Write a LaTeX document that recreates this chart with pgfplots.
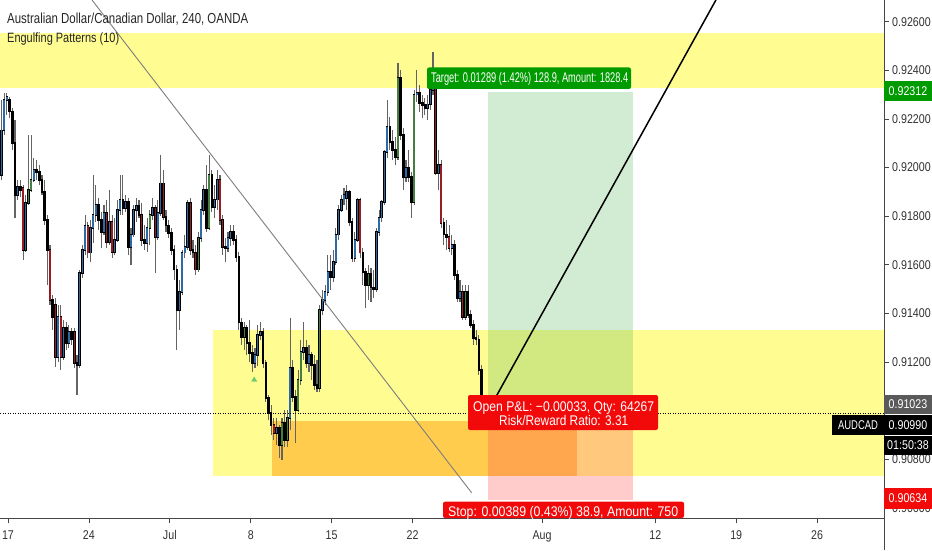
\documentclass[border=0pt]{standalone}
\usepackage{pgfplots}
\pgfplotsset{compat=1.18}
\usepackage{pgfplotstable}
\usepackage{fontspec}
\usepackage{graphicx}
\setmainfont{Liberation Sans}[FakeStretch=0.84]
\newcommand\fitw[2]{\resizebox{#1}{\height}{#2}}
\newcommand\tk{\fontsize{12.7}{14}\selectfont}
\definecolor{band}{RGB}{255,252,145}
\definecolor{orng}{RGB}{255,204,77}
\definecolor{cblue}{RGB}{44,105,165}
\definecolor{cred}{RGB}{150,30,35}
\definecolor{cgreen}{RGB}{70,125,65}
\definecolor{wick}{RGB}{100,100,100}
\definecolor{axg}{RGB}{70,70,70}
\definecolor{lab}{RGB}{50,50,50}
\definecolor{tgreen}{RGB}{0,155,0}
\definecolor{tred}{RGB}{242,10,10}
\definecolor{tgray}{RGB}{90,90,90}
\definecolor{posg}{RGB}{76,175,80}
\definecolor{posr}{RGB}{255,82,82}
\definecolor{trend}{RGB}{125,125,125}
\definecolor{tri}{RGB}{110,200,110}

\pgfplotstableread{
i o h l c
0 1969 2278 1949 2154
1 2154 2307 2134 2278
2 2278 2307 2216 2290
6 1887 1949 1866 1920
9 1661 1887 1653 1854
12 1949 2039 1941 1990
21 1221 1435 1200 1385
23 1221 1373 1208 1340
25 1278 1352 1258 1324
29 1188 1579 1175 1566
30 1566 1681 1546 1661
31 1661 1805 1640 1760
33 1649 1784 1611 1751
34 1751 1969 1690 1805
35 1805 1928 1776 1846
38 1735 1846 1723 1813
40 1694 1908 1681 1776
42 1653 1793 1640 1702
43 1702 1867 1694 1825
44 1825 1969 1805 1867
46 1834 1887 1817 1858
48 1673 1751 1599 1723
49 1723 1846 1714 1825
50 1825 1875 1776 1842
54 1690 1793 1653 1751
56 1805 1875 1784 1834
58 1714 1867 1702 1813
59 1813 2052 1801 1936
66 1414 1537 1332 1488
67 1488 1661 1476 1649
68 1649 1723 1628 1673
69 1673 1867 1661 1854
74 1710 1867 1694 1825
75 1825 1928 1805 1908
79 1838 1928 1793 1867
80 1867 1990 1825 1949
84 1669 1735 1653 1710
85 1710 1764 1677 1735
94 1196 1258 1175 1229
95 1229 1352 1184 1311
96 1311 1365 1291 1324
102 908 970 859 929
107 970 1381 920 1175
112 1241 1365 1208 1258
114 1196 1270 1159 1229
119 1414 1496 1393 1455
120 1455 1517 1435 1488
121 1488 1640 1472 1570
123 1550 1661 1529 1611
124 1611 1751 1599 1723
125 1723 1846 1702 1825
126 1825 1887 1817 1867
127 1867 1916 1846 1887
128 1875 1928 1825 1899
131 1628 1735 1611 1702
132 1702 1875 1694 1867
139 1500 1751 1488 1735
140 1735 1825 1718 1793
141 1793 1867 1776 1858
142 1858 2072 1846 2064
143 2064 2278 2039 2167
150 1961 2031 1941 1998
154 2299 2401 2270 2307
158 2245 2299 2196 2261
159 2261 2360 2237 2319
160 2319 2475 2299 2373
162 1978 2072 1908 2011
167 1669 1723 1640 1681
170 1463 1537 1447 1488
180 961 1023 929 990
}\tblue

\pgfplotstableread{
i o h l c
3 2278 2290 2204 2229
4 2229 2245 2072 2101
5 2101 2196 1792 1887
7 1920 1949 1879 1908
13 1990 2031 1949 1982
14 1982 2011 1928 1949
15 1949 1969 1887 1899
16 1899 1949 1764 1784
17 1784 1805 1517 1661
19 1455 1476 1332 1385
24 1340 1365 1249 1278
26 1324 1340 1270 1291
28 1196 1229 1064 1188
36 1846 1875 1743 1784
37 1784 1817 1669 1735
45 1867 1969 1805 1834
47 1858 1875 1640 1673
51 1842 1867 1793 1805
53 1702 1764 1661 1690
61 1797 1825 1735 1760
62 1760 1784 1710 1731
63 1731 1751 1640 1661
64 1661 1681 1537 1579
65 1579 1599 1249 1414
71 1661 1702 1628 1649
76 1908 2011 1735 1751
78 1969 1990 1817 1838
83 1673 1710 1611 1669
86 1735 1764 1681 1702
87 1702 1723 1611 1632
88 1632 1653 1332 1361
89 1361 1381 1270 1303
91 1340 1352 1229 1278
92 1278 1373 1200 1237
93 1237 1270 1159 1196
97 1324 1340 1175 1196
98 1196 1208 1036 1052
99 1052 1064 961 990
100 990 1023 900 941
103 929 941 805 859
105 949 1003 850 879
108 1175 1208 1036 1056
109 1056 1085 867 1003
113 1258 1291 1175 1196
115 1229 1241 1126 1188
116 1188 1229 1085 1105
117 1105 1208 1077 1093
122 1570 1640 1496 1550
129 1899 1908 1760 1776
130 1776 1793 1611 1628
134 1649 1669 1517 1570
135 1570 1587 1422 1517
137 1562 1587 1447 1505
138 1505 1579 1463 1500
144 2167 2208 2072 2105
145 2105 2154 2031 2072
146 2072 2126 2011 2043
148 2368 2401 2113 2134
149 2134 2163 1908 1961
151 1998 2072 1941 1961
152 1961 1982 1793 1858
155 2307 2340 2229 2266
156 2266 2299 2204 2257
157 2257 2286 2216 2245
164 1772 1793 1681 1723
165 1723 1784 1661 1714
168 1681 1702 1537 1558
169 1558 1579 1447 1463
173 1488 1517 1381 1393
174 1393 1414 1340 1352
175 1352 1373 1270 1299
176 1299 1332 1270 1291
177 1291 1311 1147 1167
178 1167 1188 1003 1023
179 1023 1044 941 961
}\tblack

\pgfplotstableread{
i o h l c
8 1916 1928 1620 1661
18 1661 1681 1435 1455
20 1435 1463 1180 1221
22 1385 1435 1167 1221
27 1324 1340 1175 1196
32 1760 1776 1628 1649
39 1813 1867 1669 1694
41 1776 1805 1628 1653
52 1805 1854 1677 1702
57 1834 1846 1566 1714
60 1936 1990 1784 1797
70 1854 1875 1640 1661
72 1649 1681 1558 1579
81 1949 1969 1764 1784
82 1784 1805 1640 1673
101 941 970 879 908
133 1867 1875 1628 1649
161 2373 2401 1969 1978
163 2011 2031 1751 1772
166 1714 1764 1653 1669
171 1488 1517 1373 1385
}\tred

\pgfplotstableread{
i o h l c
10 1854 2134 1846 1908
11 1908 2134 1899 1949
55 1751 1825 1681 1805
73 1579 1735 1570 1710
77 1751 2052 1743 1969
90 1303 1365 1249 1340
104 859 970 797 949
106 879 1003 850 970
110 1003 1167 994 1126
111 1126 1291 1105 1241
118 1093 1435 1077 1414
136 1517 1599 1455 1562
147 2043 2430 2031 2368
153 1858 2319 1846 2299
172 1385 1517 1373 1488
}\tgreen

\newcommand\candles[2]{%
 \addplot[draw=wick, line width=1.1pt, mark=none, forget plot, quiver={u=0, v={\thisrow{h}-\thisrow{l}}}] table[x=i, y=l] {#1};
 \addplot[draw=black, line width=2.6pt, mark=none, forget plot, quiver={u=0, v={abs(\thisrow{c}-\thisrow{o})+5}}] table[x=i, y expr={min(\thisrow{o},\thisrow{c})-2.5}] {#1};
 \addplot[draw=#2, line width=1.4pt, mark=none, forget plot, quiver={u=0, v={max(abs(\thisrow{c}-\thisrow{o})-2,1)}}] table[x=i, y expr={min(\thisrow{o},\thisrow{c})+1}] {#1};
}

\begin{document}
\begin{tikzpicture}
\useasboundingbox (0pt,0pt) rectangle (932pt,550pt);
\begin{axis}[
 at={(0pt,31.6pt)}, anchor=south west,
 scale only axis, width=884pt, height=518.4pt,
 xmin=-0.556, xmax=327.22, ymin=556.6, ymax=2689.3,
 axis x line*=bottom, axis y line*=right,
 axis line style={draw=axg, line width=1pt},
 clip mode=individual,
 xtick={2.41,32.41,62.41,92.41,122.41,152.41,200.41,242.41,272.41,302.41},
 xticklabels={17,24,Jul,8,15,22,Aug,12,19,26},
 ytick={2600,2400,2200,2000,1800,1600,1400,1200,800,600},
 yticklabels={0.92600,0.92400,0.92200,0.92000,0.91800,0.91600,0.91400,0.91200,0.90800,0.90600},
 tick align=outside, major tick length=5pt,
 tick style={draw=axg, line width=0.8pt},
 xticklabel style={font=\tk, text=lab, anchor=north, inner sep=0pt, yshift=-7pt},
 yticklabel style={font=\tk, text=lab, anchor=west, inner sep=0pt, xshift=3pt},
]
\fill[band] (axis cs:-0.556,2326) rectangle (axis cs:327.22,2552);
\fill[band] (axis cs:78.4,731) rectangle (axis cs:327.22,1331.7);
\fill[orng] (axis cs:100.3,731) rectangle (axis cs:213.4,957.3);
\fill[posg, opacity=0.25] (axis cs:180.3,1023) rectangle (axis cs:234,2312);
\fill[posr, opacity=0.3] (axis cs:180.3,634) rectangle (axis cs:234,1023);
\candles{\tblue}{cblue}
\candles{\tblack}{black}
\candles{\tred}{cred}
\candles{\tgreen}{cgreen}
\addplot[only marks, mark=triangle*, mark size=3pt, color=tri, forget plot] coordinates {(93.7,1126)};
\draw[trend, line width=0.9pt] (axis cs:33.56,2689.3) -- (axis cs:174.3,662.4);
\draw[black, line width=1.5pt] (axis cs:181,1010) -- (axis cs:264.9,2689.3);
\draw[black, line width=1pt, dash pattern=on 1pt off 1.5pt] (axis cs:-0.556,990) -- (axis cs:327.22,990);
\end{axis}
\draw[axg, line width=1pt] (884pt,0pt) -- (884pt,32pt);
% legend text
\node[anchor=base west, inner sep=0pt, text=black!85] at (7pt,526pt) {\fontsize{14.5}{16}\selectfont\fitw{241pt}{Australian Dollar/Canadian Dollar, 240, OANDA}};
\node[anchor=base west, inner sep=0pt, text=black!85] at (7pt,507.3pt) {\fontsize{13.5}{15}\selectfont\fitw{112pt}{Engulfing Patterns (10)}};
% position labels
\fill[tgreen, rounded corners=2pt] (427pt,461pt) rectangle (631pt,482.5pt);
\node[anchor=base west, inner sep=0pt, text=white] at (431pt,467pt) {\fontsize{14}{15}\selectfont\fitw{197pt}{Target: 0.01289 (1.42\%) 128.9, Amount: 1828.4}};
\fill[tred, rounded corners=2pt] (468pt,120pt) rectangle (658pt,155pt);
\node[anchor=base west, inner sep=0pt, text=white] at (473pt,139pt) {\fontsize{14}{16}\selectfont\fitw{181pt}{Open P\&L: −0.00033, Qty: 64267}};
\node[anchor=base west, inner sep=0pt, text=white] at (499pt,125pt) {\fontsize{14}{16}\selectfont\fitw{129pt}{Risk/Reward Ratio: 3.31}};
\fill[tred, rounded corners=2pt] (443pt,32pt) rectangle (684pt,48.3pt);
\node[anchor=base west, inner sep=0pt, text=white] at (448pt,34pt) {\fontsize{14}{16}\selectfont\fitw{230pt}{Stop: 0.00389 (0.43\%) 38.9, Amount: 750}};
% price tags
\node[fill=tgreen, text=white, minimum width=48pt, minimum height=20pt, inner sep=0pt] at (908pt,459pt) {\tk 0.92312};
\node[fill=tgray, text=white, minimum width=48pt, minimum height=19pt, inner sep=0pt] at (908pt,145.5pt) {\tk 0.91023};
\node[fill=black, text=white, minimum width=52pt, minimum height=20pt, inner sep=0pt] at (858pt,125pt) {\tk\fitw{40pt}{AUDCAD}};
\node[fill=black, text=white, minimum width=48pt, minimum height=20pt, inner sep=0pt] at (908pt,125pt) {\tk 0.90990};
\node[fill=black, text=white, minimum width=48pt, minimum height=19pt, inner sep=0pt] at (908pt,104.5pt) {\tk 01:50:38};
\node[fill=tred, text=white, minimum width=48pt, minimum height=21pt, inner sep=0pt] at (908pt,51.5pt) {\tk 0.90634};
\end{tikzpicture}
\end{document}
